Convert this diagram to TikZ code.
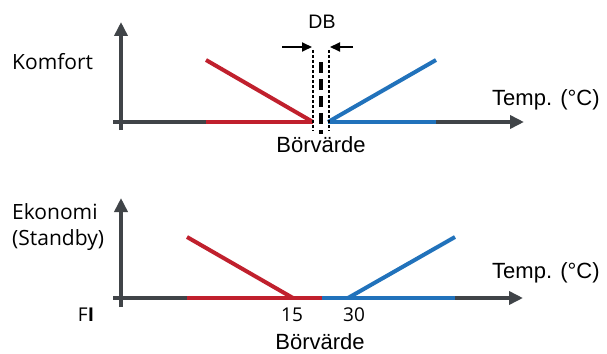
\documentclass[tikz,border=0pt]{standalone}
\usepackage{fontspec}
\setmainfont{Liberation Sans}
\newfontfamily\myr{Open Sans}
\usetikzlibrary{arrows.meta}
\definecolor{axgrey}{RGB}{64,68,72}
\definecolor{hred}{RGB}{192,32,45}
\definecolor{hblue}{RGB}{33,114,187}
\tikzset{
  axis/.style={draw=axgrey,line width=4pt,-{Triangle[length=14pt,width=13pt]}},
  axisplain/.style={draw=axgrey,line width=4pt},
  redl/.style={draw=hred,line width=4pt},
  bluel/.style={draw=hblue,line width=4pt},
  thindash/.style={draw=black,line width=1.5pt,dash pattern=on 3pt off 2pt},
  thickdash/.style={draw=black,line width=4pt,dash pattern=on 11pt off 6pt},
  dbarrow/.style={draw=black,line width=2pt,-{Triangle[length=10pt,width=9pt]}},
  lbl/.style={inner sep=0pt,anchor=base,font=\fontsize{22}{26}\selectfont},
  lblm/.style={inner sep=0pt,anchor=base,font=\myr\fontsize{21}{25}\selectfont},
}
\begin{document}
\begin{tikzpicture}[x=1pt,y=-1pt]
\useasboundingbox (0,0) rectangle (607,353);
% ---------- top chart ----------
\coordinate (tv0) at (121,130);
\coordinate (tv1) at (121,22);
\coordinate (th0) at (113,122);
\coordinate (th1) at (524,122);
\coordinate (tr0) at (206,122);
\coordinate (tr1) at (313,122);
\coordinate (trd) at (206,60);
\coordinate (tb0) at (328,122);
\coordinate (tb1) at (436,122);
\coordinate (tbd) at (436,60);
\coordinate (dl0) at (313,50);
\coordinate (dl1) at (313,131);
\coordinate (dr0) at (329,50);
\coordinate (dr1) at (329,131);
\coordinate (dc0) at (321,62);
\coordinate (dc1) at (321,134);
\coordinate (al) at (282,47);
\coordinate (alt) at (312,47);
\coordinate (ar) at (353,47);
\coordinate (art) at (330,47);
\draw[axisplain] (th0) -- (tr0);
\draw[axis] (tb1) -- (th1);
\draw[axis] (tv0) -- (tv1);
\draw[redl] (tr0) -- (tr1);
\draw[redl] (trd) -- (tr1);
\draw[bluel] (tb0) -- (tb1);
\draw[bluel] (tb0) -- (tbd);
\draw[thindash] (dl0) -- (dl1);
\draw[thindash] (dr0) -- (dr1);
\draw[thickdash] (dc0) -- (dc1);
\draw[dbarrow] (al) -- (alt);
\draw[dbarrow] (ar) -- (art);
\node[lbl,font=\fontsize{19.5}{22}\selectfont] (db) at (322,29) {DB};
\node[lbl] (bv1) at (321,152) {Börvärde};
\node[lblm,anchor=base west] (komf) at (12,69) {Komfort};
\node[lbl,anchor=base west] (tt1) at (492,105) {Temp. (°C)};
% ---------- bottom chart ----------
\coordinate (bv0) at (121,307);
\coordinate (bvt) at (121,198);
\coordinate (bh0) at (113,298);
\coordinate (bh1) at (523,298);
\coordinate (br0) at (187,298);
\coordinate (br1) at (322,298);
\coordinate (brd) at (187,237);
\coordinate (brm) at (293,298);
\coordinate (bb1) at (455,298);
\coordinate (bbm) at (348,298);
\coordinate (bbd) at (455,237);
\draw[axisplain] (bh0) -- (br0);
\draw[axis] (bb1) -- (bh1);
\draw[axis] (bv0) -- (bvt);
\draw[redl] (br0) -- (br1);
\draw[redl] (brd) -- (brm);
\draw[bluel] (br1) -- (bb1);
\draw[bluel] (bbm) -- (bbd);
\node[lblm,anchor=base west] (eko) at (12,219) {Ekonomi};
\node[lblm,anchor=base west] (stb) at (12,245) {(Standby)};
\node[lblm,font=\myr\fontsize{19}{22}\selectfont] (fi) at (86,321) {F\textbf{I}};
\node[lblm,font=\myr\fontsize{19}{22}\selectfont] (n15) at (292,321) {15};
\node[lblm,font=\myr\fontsize{19}{22}\selectfont] (n30) at (354,321) {30};
\node[lbl] (bv2) at (320,349) {Börvärde};
\node[lbl,anchor=base west] (tt2) at (492,278) {Temp. (°C)};
\end{tikzpicture}
\end{document}
